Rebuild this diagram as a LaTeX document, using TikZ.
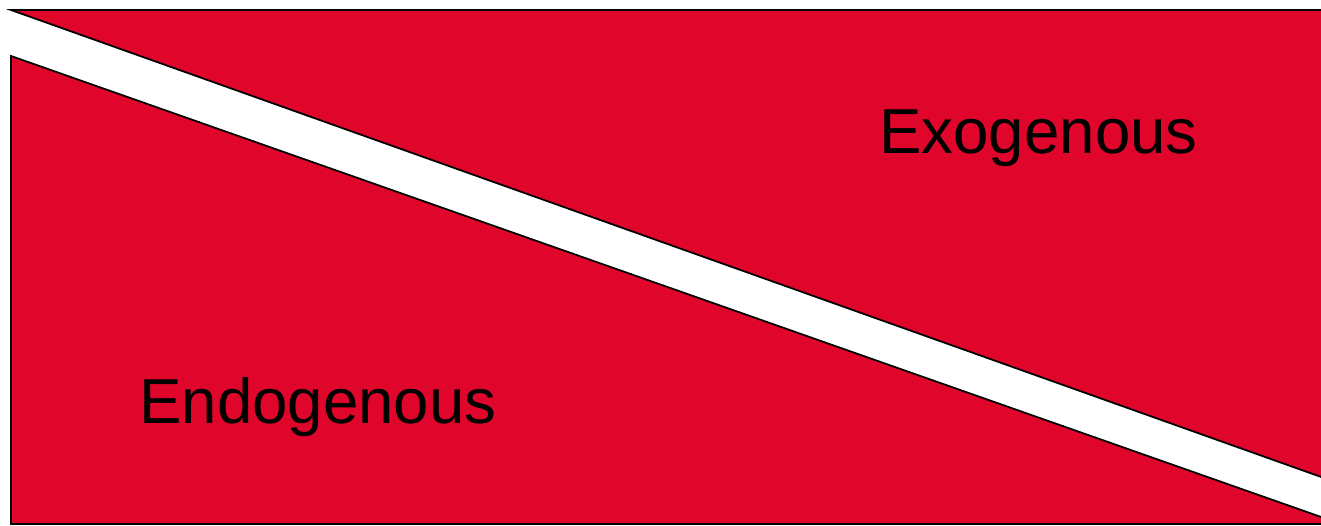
\documentclass[tikz,border=0pt]{standalone}
\usepackage{fontspec}
\setmainfont{Liberation Sans}
\usepackage{xcolor}
\definecolor{bandred}{HTML}{E0052A}

\begin{document}
\begin{tikzpicture}[
  x=0.02cm, y=-0.02cm,
  region/.style={fill=bandred, draw=black, line width=1pt, line join=miter},
  label/.style={anchor=base west, inner sep=0pt, font=\fontsize{36.2}{40}\selectfont}
]
  \useasboundingbox (0,0) rectangle (1321,526);

  % Upper region (exogenous)
  \fill[region] (11,10) -- (1324,10) -- (1324,478) -- cycle;

  % Lower region (endogenous)
  \fill[region] (11,56) -- (1324,518) -- (1324,524) -- (11,524) -- cycle;

  % Region labels
  \node[label] (exo) at (879,154) {Exogenous};
  \node[label] (endo) at (139,424) {Endogenous};
\end{tikzpicture}
\end{document}
